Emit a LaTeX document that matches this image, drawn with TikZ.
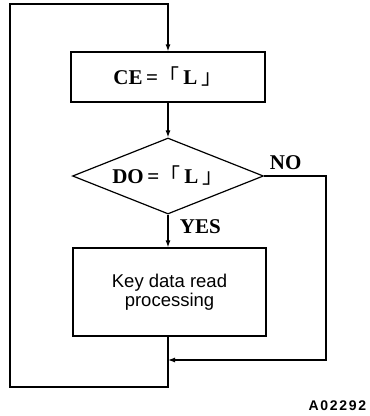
\documentclass[tikz,border=0pt]{standalone}
\usepackage{fontspec}
\setmainfont{Liberation Serif}
\setsansfont{Liberation Sans}
\newfontfamily\cjk{Noto Sans CJK JP}
\newcommand{\lbr}{{\mdseries\cjk「}\hspace{0.2em}}
\newcommand{\rbr}{\hspace{0.2em}{\mdseries\cjk」}}
\usetikzlibrary{shapes.geometric,arrows.meta}

\begin{document}
\begin{tikzpicture}[x=1pt,y=-1pt,line width=1.2pt,
  box/.style={draw,rectangle,inner sep=0pt},
  cond/.style={draw,diamond,aspect=2.5,inner sep=0pt,minimum width=191pt,minimum height=76pt},
  flow/.style={-{Latex[length=7pt,width=5pt]}},
  lbl/.style={font=\fontsize{21}{23}\selectfont\bfseries}]
\useasboundingbox (0,0) rectangle (370,416);
\node[box,lbl,minimum width=194pt,minimum height=50pt] (ce) at (168,77) {CE\,=\lbr L\rbr};
\node[cond,lbl] (do) at (168,176) {DO\,=\lbr L\rbr};
\node[box,minimum width=193pt,minimum height=88pt,align=center,font=\sffamily\fontsize{18.5}{19}\selectfont] (key) at (169.5,292) {Key data read\\processing};
\coordinate (nr) at (326,360);
\coordinate (mrg) at (168,360);
\coordinate (bl) at (10,387);
\coordinate (tl) at (10,4);
\draw[flow] (ce) -- (do);
\draw[flow] (do) -- (key.north -| do.south);
\draw[flow] (do.east) -| (nr) -- (mrg);
\draw[flow] (key.south -| mrg) |- (bl) -- (tl) -| (ce.north);
\node[lbl,anchor=base west] (no) at (266,169) {NO};
\node[lbl,anchor=base west] (yes) at (176,233) {YES};
\node[anchor=base east,font=\sffamily\bfseries\fontsize{14}{16}\selectfont\addfontfeature{LetterSpace=12}] (code) at (370,410) {A02292};
\end{tikzpicture}
\end{document}
